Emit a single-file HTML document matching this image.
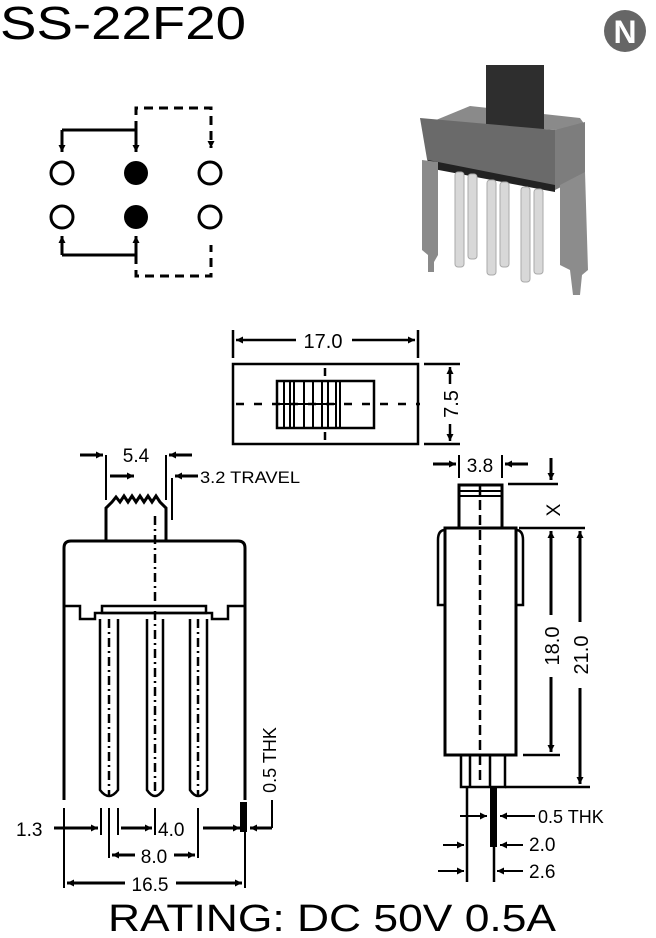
<!DOCTYPE html>
<html><head><meta charset="utf-8"><style>
html,body{margin:0;padding:0;background:#fff;}
svg{display:block;font-family:"Liberation Sans",Arial,sans-serif;}
</style></head><body>
<svg width="656" height="938" viewBox="0 0 656 938" xmlns="http://www.w3.org/2000/svg">
<defs>
<marker id="a" viewBox="0 0 10 10" refX="10" refY="5" markerWidth="12" markerHeight="7" orient="auto-start-reverse" markerUnits="userSpaceOnUse"><path d="M0,0 L10,5 L0,10 z" fill="#000"/></marker>
</defs>
<rect width="656" height="938" fill="#fff"/>
<text x="0" y="39" font-size="46" textLength="246" lengthAdjust="spacingAndGlyphs">SS-22F20</text>
<circle cx="625" cy="31" r="21" fill="#666"/>
<text x="625" y="43" font-size="32" font-weight="bold" fill="#fff" text-anchor="middle">N</text>

<g stroke="#000" stroke-width="3" fill="none">
<circle cx="62" cy="173" r="11"/><circle cx="62" cy="217" r="11"/>
<circle cx="210" cy="173" r="11"/><circle cx="210" cy="217" r="11"/>
</g>
<circle cx="136" cy="173" r="12"/><circle cx="136" cy="217" r="12"/>
<g stroke="#000" stroke-width="3" fill="none">
<path d="M62,130 H136"/><path d="M62,130 V152" marker-end="url(#a)"/><path d="M136,130 V152" marker-end="url(#a)"/>
<path d="M62,255 H136"/><path d="M62,255 V236" marker-end="url(#a)"/><path d="M136,255 V236" marker-end="url(#a)"/>
<path d="M136,130 V108 H211 V148" stroke-dasharray="9,6" marker-end="url(#a)"/>
<path d="M136,255 V276 H211 V245" stroke-dasharray="9,6"/>
</g>

<g>
<path d="M436,120 L470,106 L580,118 L585,125 L555,130 Z" fill="#8a8a8a"/>
<rect x="486" y="65" width="58" height="70" fill="#2e2e2e"/>
<path d="M420,118 L555,130 L555,190 L428,165 Z" fill="#6a6a6a"/>
<path d="M555,130 L585,122 L585,175 L555,190 Z" fill="#7d7d7d"/>
<path d="M428,160 L555,185 L555,192 L428,168 Z" fill="#222"/>
<path d="M422,160 L438,162 L438,255 L434,262 L434,272 L428,272 L428,255 L422,250 Z" fill="#8a8a8a"/>
<path d="M560,185 L585,172 L588,270 L582,275 L580,295 L573,295 L570,270 L560,265 Z" fill="#8c8c8c"/>
<g fill="#d8d8d8" stroke="#aaa" stroke-width="1">
<rect x="455" y="172" width="9" height="95" rx="3"/><rect x="468" y="174" width="9" height="85" rx="3"/>
<rect x="487" y="180" width="9" height="95" rx="3"/><rect x="500" y="182" width="9" height="85" rx="3"/>
<rect x="521" y="187" width="9" height="95" rx="3"/><rect x="534" y="189" width="9" height="85" rx="3"/>
</g>
</g>

<g stroke="#000" stroke-width="2.5" fill="none">
<rect x="233" y="364" width="185" height="80"/>
<path d="M233,330 V358 M418,330 V358"/>
<path d="M296,340 H236" marker-end="url(#a)"/><path d="M352,340 H415" marker-end="url(#a)"/>
<rect x="277" y="381" width="97" height="47"/>
<path d="M284,381 V428 M290,381 V428 M294,381 V428 M304,381 V428 M313,381 V428 M322,381 V428 M328,381 V428 M336,381 V428 M340,381 V428" stroke-width="2"/>
<path d="M280,404 H336" stroke-width="2"/>
<path d="M236,404 H420" stroke-dasharray="8,10"/>
<path d="M325,368 V376 M325,432 V440"/>
<path d="M424,364 H460 M424,444 H460"/>
<path d="M450,384 V367" marker-end="url(#a)"/><path d="M450,424 V441" marker-end="url(#a)"/>
</g>
<text x="323" y="348" font-size="20" text-anchor="middle">17.0</text>
<text transform="translate(458,404) rotate(-90)" font-size="20" text-anchor="middle">7.5</text>

<g stroke="#000" stroke-width="3" fill="none">
<path d="M64,800 V548 Q64,541 71,541 H238 Q245,541 245,548 V800"/>
<path d="M106,541 V508 L112,502 L116,497 L120,502 L124,496 L128,502 L132,496 L136,502 L140,496 L144,502 L148,496 L152,502 L156,496 L160,502 L166,508 V541"/>
<path d="M64,606 H80 V619 H95 V613 H212 V619 H228 V606 H245" stroke-width="2.5"/>
<rect x="102" y="606" width="104" height="7" stroke-width="2.5"/>
<path d="M100,619 V790 Q109,802 118,790 V619" stroke-width="2.5"/>
<path d="M147,619 V790 Q155,802 163,790 V619" stroke-width="2.5"/>
<path d="M190,619 V790 Q198,802 207,790 V619" stroke-width="2.5"/>
<path d="M155,516 V800 M109,619 V795 M198,619 V795" stroke-width="2.5" stroke-dasharray="9,4,2,4"/>
<path d="M106,455 V500 M166,455 V500 M172,478 V520" stroke-width="2"/>
<path d="M80,455 H103" marker-end="url(#a)"/><path d="M192,455 H169" marker-end="url(#a)"/>
<path d="M110,476 H134" marker-end="url(#a)"/><path d="M198,476 H175" marker-end="url(#a)"/>
<path d="M64,808 V888 M101,808 V835 M118,808 V835 M155,808 V835 M198,808 V858 M109,808 V858 M245,808 V888 M272,800 V828" stroke-width="2"/>
<path d="M54,828 H98" marker-end="url(#a)"/><path d="M121,828 H152" marker-end="url(#a)"/>
<path d="M203,828 H240" marker-end="url(#a)"/><path d="M272,828 H250" marker-end="url(#a)"/>
<path d="M135,855 H112" marker-end="url(#a)"/><path d="M174,855 H195" marker-end="url(#a)"/>
<path d="M125,883 H67" marker-end="url(#a)"/><path d="M176,883 H242" marker-end="url(#a)"/>
</g>
<rect x="240" y="802" width="7" height="30" fill="#000"/>
<text x="136" y="462" font-size="19" text-anchor="middle">5.4</text>
<text x="200" y="483" font-size="17" textLength="100" lengthAdjust="spacingAndGlyphs">3.2 TRAVEL</text>
<text x="16" y="836" font-size="19">1.3</text>
<text x="158" y="836" font-size="19">4.0</text>
<text x="154" y="863" font-size="19" text-anchor="middle">8.0</text>
<text x="150" y="891" font-size="19" text-anchor="middle">16.5</text>
<text transform="translate(276,760) rotate(-90)" font-size="18" text-anchor="middle">0.5 THK</text>

<g stroke="#000" stroke-width="3" fill="none">
<rect x="445" y="528" width="71" height="227"/>
<rect x="459" y="485" width="43" height="43"/>
<path d="M459,491 H502 M459,496 H502" stroke-width="2"/>
<path d="M480,485 V785" stroke-dasharray="10,5" stroke-width="2.5"/>
<path d="M445,530 Q438,530 438,540 V605 H445 M516,530 Q523,530 523,540 V605 H516" stroke-width="2.5"/>
<path d="M461,755 V787 H505 V755 M470,755 V787 M490,755 V787" stroke-width="2.5"/>
<path d="M467,787 V882" stroke-width="2.5"/>
<rect x="490" y="787" width="7" height="60" fill="#000" stroke="none"/>
<path d="M494,847 V882" stroke-width="2.5"/>
<path d="M459,455 V478 M502,455 V478" stroke-width="2"/>
<path d="M433,464 H456" marker-end="url(#a)"/><path d="M528,464 H505" marker-end="url(#a)"/>
<path d="M508,484 H558 M519,528 H585 M523,755 H560 M505,787 H590" stroke-width="2.5"/>
<path d="M551,458 V480" marker-end="url(#a)"/>
<path d="M551,615 V531" marker-end="url(#a)"/><path d="M551,677 V752" marker-end="url(#a)"/>
<path d="M580,622 V531" marker-end="url(#a)"/><path d="M580,688 V784" marker-end="url(#a)"/>
<path d="M460,816 H487" marker-end="url(#a)" stroke-width="2"/><path d="M535,816 H500" marker-end="url(#a)" stroke-width="2"/>
<path d="M443,845 H464" marker-end="url(#a)" stroke-width="2"/><path d="M523,845 H500" marker-end="url(#a)" stroke-width="2"/>
<path d="M438,871 H464" marker-end="url(#a)" stroke-width="2"/><path d="M523,871 H497" marker-end="url(#a)" stroke-width="2"/>
</g>
<text x="480" y="472" font-size="19" text-anchor="middle">3.8</text>
<text transform="translate(560,510) rotate(-90)" font-size="19" text-anchor="middle">X</text>
<text transform="translate(559,646) rotate(-90)" font-size="20" text-anchor="middle">18.0</text>
<text transform="translate(588,655) rotate(-90)" font-size="20" text-anchor="middle">21.0</text>
<text x="538" y="823" font-size="18">0.5 THK</text>
<text x="529" y="851" font-size="19">2.0</text>
<text x="529" y="878" font-size="19">2.6</text>

<text x="108" y="931" font-size="38" textLength="448" lengthAdjust="spacingAndGlyphs">RATING: DC 50V 0.5A</text>
</svg>
</body></html>
